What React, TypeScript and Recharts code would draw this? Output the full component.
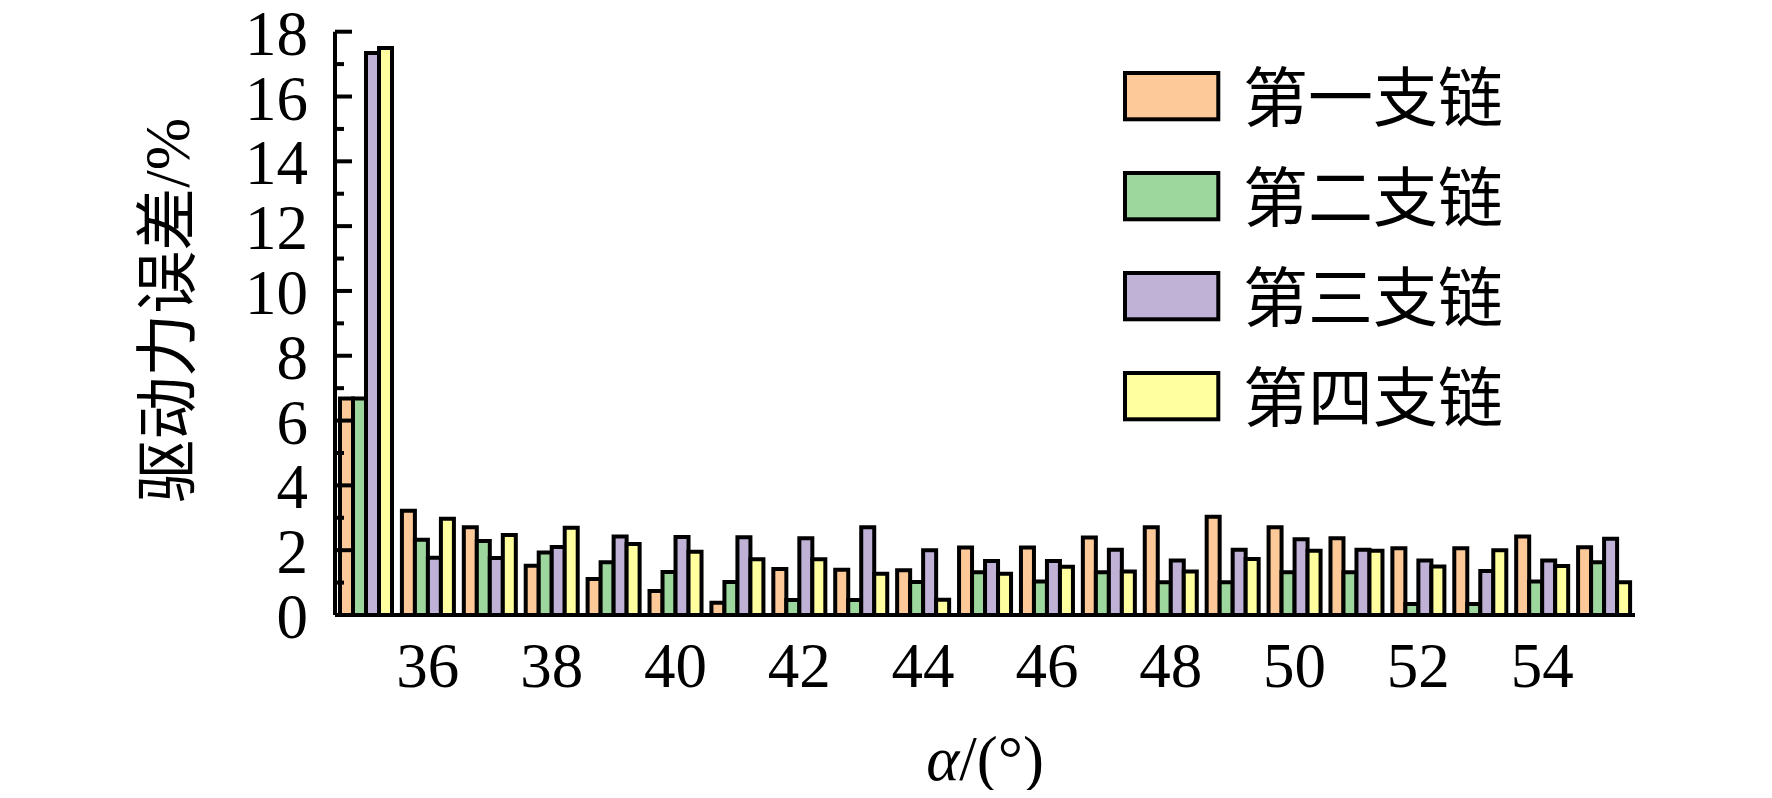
import React from 'react';
import { BarChart, Bar, XAxis, YAxis, Legend } from 'recharts';

const angles = [35, 36, 37, 38, 39, 40, 41, 42, 43, 44, 45, 46, 47, 48, 49, 50, 51, 52, 53, 54, 55];
const chain1 = [6.68, 3.22, 2.71, 1.52, 1.11, 0.74, 0.38, 1.42, 1.40, 1.38, 2.08, 2.08, 2.39, 2.71, 3.03, 2.71, 2.37, 2.06, 2.06, 2.42, 2.09];
const chain2 = [6.68, 2.32, 2.28, 1.93, 1.63, 1.33, 1.02, 0.46, 0.46, 1.02, 1.32, 1.03, 1.32, 1.01, 1.01, 1.32, 1.32, 0.34, 0.34, 1.03, 1.63];
const chain3 = [17.34, 1.77, 1.76, 2.10, 2.42, 2.41, 2.40, 2.37, 2.71, 2.00, 1.67, 1.67, 2.01, 1.68, 2.01, 2.34, 2.01, 1.68, 1.36, 1.68, 2.35];
const chain4 = [17.5, 2.97, 2.47, 2.69, 2.19, 1.95, 1.72, 1.72, 1.27, 0.47, 1.27, 1.49, 1.34, 1.34, 1.73, 1.98, 1.98, 1.50, 2.00, 1.51, 1.01];

const seriesKeys = ['c1', 'c2', 'c3', 'c4'];
const seriesNames = ['第一支链', '第二支链', '第三支链', '第四支链'];
const seriesColors = ['#FDC999', '#9DD79D', '#C0B2D7', '#FFFF9F'];

const yTicks = [0, 1, 2, 3, 4, 5, 6, 7, 8, 9, 10, 11, 12, 13, 14, 15, 16, 17, 18];
const yLabeled = [0, 2, 4, 6, 8, 10, 12, 14, 16, 18];
const xLabeled = [36, 38, 40, 42, 44, 46, 48, 50, 52, 54];

const yTitle = '驱动力误差/%';

const data = angles.map((a, i) => ({
  angle: a,
  c1: chain1[i],
  c2: chain2[i],
  c3: chain3[i],
  c4: chain4[i],
}));

const FONT = "'Liberation Serif', 'Times New Roman', 'Noto Sans CJK SC', serif";
const CJK = "'Liberation Serif', 'Noto Sans CJK SC', sans-serif";

const YTick = (props: any) => {
  const { x, y, payload } = props;
  const v = payload.value;
  const major = yLabeled.includes(v);
  return (
    <g>
      <line x1={x} x2={x + (major ? 17 : 9)} y1={y} y2={y} stroke="#000" strokeWidth={4} />
      {major && (
        <text x={x - 27} y={y + 2} textAnchor="end" dominantBaseline="central" fontFamily={FONT} fontSize={63} fill="#000">
          {v}
        </text>
      )}
    </g>
  );
};

const XTick = (props: any) => {
  const { x, y, payload } = props;
  const v = payload.value;
  if (!xLabeled.includes(v)) return <g />;
  return (
    <text x={x} y={y + 72} textAnchor="middle" fontFamily={FONT} fontSize={63} fill="#000">
      {v}
    </text>
  );
};

const YLabel = (props: any) => {
  const vb = props.viewBox || {};
  const cx = vb.x + vb.width - 167;
  const cy = vb.y + vb.height / 2 - 13;
  return (
    <text
      x={cx}
      y={cy}
      transform={`rotate(-90, ${cx}, ${cy})`}
      textAnchor="middle"
      dominantBaseline="central"
      fontFamily={CJK}
      fontSize={63}
      fill="#000"
    >
      {yTitle}
    </text>
  );
};

const XLabel = (props: any) => {
  const vb = props.viewBox || {};
  const cx = vb.x + vb.width / 2;
  const cy = vb.y + 165;
  return (
    <text x={cx} y={cy} textAnchor="middle" fontFamily={FONT} fontSize={63} fill="#000">
      <tspan fontStyle="italic">α</tspan>
      <tspan>/(°)</tspan>
    </text>
  );
};

const renderLegend = (props: any) => {
  const payload = [...(props.payload || [])].sort(
    (a: any, b: any) => seriesNames.indexOf(a.value) - seriesNames.indexOf(b.value)
  );
  return (
    <svg width={520} height={420} style={{ display: 'block', overflow: 'visible' }}>
      {payload.map((entry: any, i: number) => (
        <g key={entry.value} transform={`translate(0, ${i * 100})`}>
          <rect x={2} y={2} width={93.3} height={46.3} fill={entry.color} stroke="#000" strokeWidth={4} />
          <text x={120} y={28} dominantBaseline="central" fontFamily={CJK} fontSize={65} fill="#000">
            {entry.value}
          </text>
        </g>
      ))}
    </svg>
  );
};

export default function App() {
  return (
    <div style={{ width: 1772, height: 798, margin: -8, background: '#fff', overflow: 'hidden' }}>
      <BarChart
        width={1772}
        height={798}
        data={data}
        margin={{ top: 31.7, right: 137, left: 235, bottom: 83 }}
        barGap={0}
        barSize={13}
      >
        <XAxis
          dataKey="angle"
          type="category"
          height={100}
          interval={0}
          tickLine={false}
          tickSize={0}
          tickMargin={0}
          axisLine={{ stroke: '#000', strokeWidth: 4 }}
          tick={<XTick />}
          label={<XLabel />}
        />
        <YAxis
          type="number"
          domain={[0, 18]}
          ticks={yTicks}
          interval={0}
          width={100}
          tickLine={false}
          tickSize={0}
          tickMargin={0}
          axisLine={{ stroke: '#000', strokeWidth: 4 }}
          tick={<YTick />}
          label={<YLabel />}
        />
        <Legend
          layout="vertical"
          align="center"
          verticalAlign="middle"
          content={renderLegend}
          wrapperStyle={{ left: 1122.7, top: 70.7, width: 520, height: 420 }}
        />
        {seriesKeys.map((k, i) => (
          <Bar
            key={k}
            dataKey={k}
            name={seriesNames[i]}
            fill={seriesColors[i]}
            stroke="#000"
            strokeWidth={4}
            isAnimationActive={false}
          />
        ))}
      </BarChart>
    </div>
  );
}
